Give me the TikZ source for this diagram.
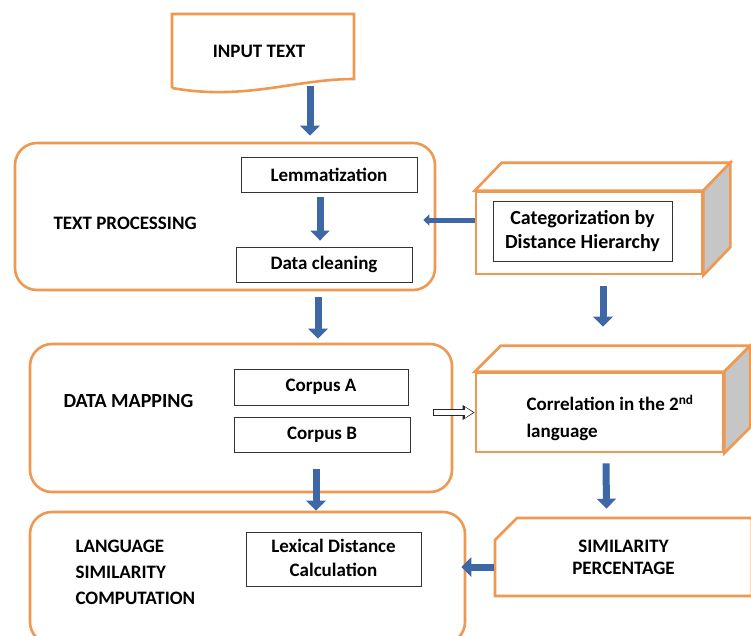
\documentclass[tikz,border=0pt]{standalone}
\usepackage{fontspec}
\setmainfont{Carlito}
\usetikzlibrary{arrows.meta, positioning, shapes.misc}

\definecolor{stageorange}{RGB}{238,152,82}
\definecolor{flowblue}{RGB}{62,104,165}
\definecolor{sidegray}{RGB}{198,198,198}

\tikzset{
    stage/.style={draw=stageorange, line width=2.6pt, rounded corners=22pt},
    face/.style={draw=stageorange, line width=2.6pt, fill=white},
    step box/.style={draw=black!80, line width=0.9pt, fill=white, align=center},
    flow/.style={flowblue, line width=7pt, -{Triangle[width=19pt, length=10pt]}},
    thin flow/.style={flowblue, line width=5pt, -{Triangle[width=11pt, length=6pt]}},
    hollow flow/.style={black!85, line width=6.5pt, -{Triangle[width=14pt, length=12pt]},
        postaction={draw=white, line width=4.5pt, -{Triangle[width=10pt, length=8pt]}, shorten >=1.7pt, shorten <=0.9pt}}
}

\begin{document}
\begin{tikzpicture}[x=1pt, y=-1pt, font=\bfseries\fontsize{19}{23}\selectfont]
    \clip (0,0) rectangle (751,635);
    \fill[white] (0,0) rectangle (751,635);

    % input document
    \draw[stageorange, line width=2.6pt, fill=white] (172,88) -- (172,14) -- (354,14) -- (354,79)
        .. controls (295,79) and (245,101) .. (172,88);
    \node[minimum width=182pt, minimum height=74pt] (input) at (259,51) {INPUT TEXT};

    % text processing
    \node[stage, minimum width=420pt, minimum height=147pt] (tp) at (225,216.5) {};
    \node[anchor=west] (tplabel) at (50,223) {TEXT PROCESSING};
    \node[step box, minimum width=176pt, minimum height=35pt] (lemma) at (329,174.5) {Lemmatization};
    \node[step box, minimum width=176pt, minimum height=35pt] (clean) at (324,264.5) {Data cleaning};

    % categorization cuboid
    \node[face, minimum width=226pt, minimum height=82pt] (catg) at (589,233) {};
    \draw[face] (catg.north west) -- ([shift={(27,-28)}]catg.north west) -- ([shift={(27,-28)}]catg.north east) -- (catg.north east) -- cycle;
    \draw[face, fill=sidegray] (catg.north east) -- ([shift={(27,-28)}]catg.north east) -- ([shift={(27,-28)}]catg.south east) -- (catg.south east) -- cycle;
    \node[step box, minimum width=179pt, minimum height=60pt, font=\bfseries\fontsize{20}{24}\selectfont] (hier) at (582.5,231) {Categorization by\\Distance Hierarchy};

    % data mapping
    \node[stage, minimum width=422pt, minimum height=148pt] (dm) at (241,418) {};
    \node[anchor=west, font=\bfseries\fontsize{20}{24}\selectfont] (dmlabel) at (60,401) {DATA MAPPING};
    \node[step box, minimum width=174pt, minimum height=36pt] (corpa) at (321,387) {Corpus A};
    \node[step box, minimum width=176pt, minimum height=35pt] (corpb) at (322,434.5) {Corpus B};

    % correlation cuboid
    \node[face, minimum width=247pt, minimum height=79pt] (corr) at (599.5,412.5) {};
    \draw[face] (corr.north west) -- ([shift={(26,-26)}]corr.north west) -- ([shift={(26,-26)}]corr.north east) -- (corr.north east) -- cycle;
    \draw[face, fill=sidegray] (corr.north east) -- ([shift={(26,-26)}]corr.north east) -- ([shift={(26,-26)}]corr.south east) -- (corr.south east) -- cycle;
    \node[anchor=west, align=left, font=\bfseries\fontsize{19}{27}\selectfont] (corrtext) at (523,418) {Correlation in the 2\textsuperscript{nd}\\language};

    % language similarity computation
    \node[stage, minimum width=435pt, minimum height=132pt] (lsc) at (247.5,578) {};
    \node[anchor=west, align=left, font=\bfseries\fontsize{19}{26}\selectfont] (lsclabel) at (72,572) {LANGUAGE\\SIMILARITY\\COMPUTATION};
    \node[step box, minimum width=175pt, minimum height=54pt, text depth=3pt, font=\bfseries\fontsize{19}{24}\selectfont] (lexical) at (333.5,559) {Lexical Distance\\Calculation};

    % similarity percentage
    \node[draw=stageorange, line width=2.6pt, fill=white, chamfered rectangle, chamfered rectangle corners=north west,
        chamfered rectangle xsep=10pt, chamfered rectangle ysep=12pt, minimum width=257pt, minimum height=78pt,
        align=center, font=\bfseries\fontsize{19}{22}\selectfont] (sim) at (623.5,557) {SIMILARITY\\PERCENTAGE};

    % arrows
    \draw[flow] ([xshift=51pt, yshift=2pt]input.south) -- ([xshift=85pt, yshift=6pt]tp.north);
    \draw[flow] ([xshift=-9pt, yshift=-5pt]lemma.south) -- ([xshift=-4pt, yshift=6pt]clean.north);
    \draw[thin flow] ([yshift=13pt]catg.west) -- ([xshift=-13pt, yshift=-3.5pt]tp.east);
    \draw[flow] ([xshift=93pt, yshift=-6pt]tp.south) -- ([xshift=77pt, yshift=4pt]dm.north);
    \draw[flow] ([xshift=14pt, yshift=-11pt]catg.south) -- ([xshift=3.5pt, yshift=45pt]corr.north);
    \draw[hollow flow] ([xshift=-20pt]dm.east |- corr.west) -- (corr.west);
    \draw[flow] ([xshift=6.5pt, yshift=-10pt]corr.south) -- ([xshift=-17pt, yshift=8pt]sim.north);
    \draw[flow] ([xshift=75pt, yshift=24pt]dm.south) -- ([xshift=68.5pt]lsc.north);
    \draw[flow] ([yshift=-10pt]sim.west) -- ([xshift=-5pt, yshift=11pt]lsc.east);
\end{tikzpicture}
\end{document}
